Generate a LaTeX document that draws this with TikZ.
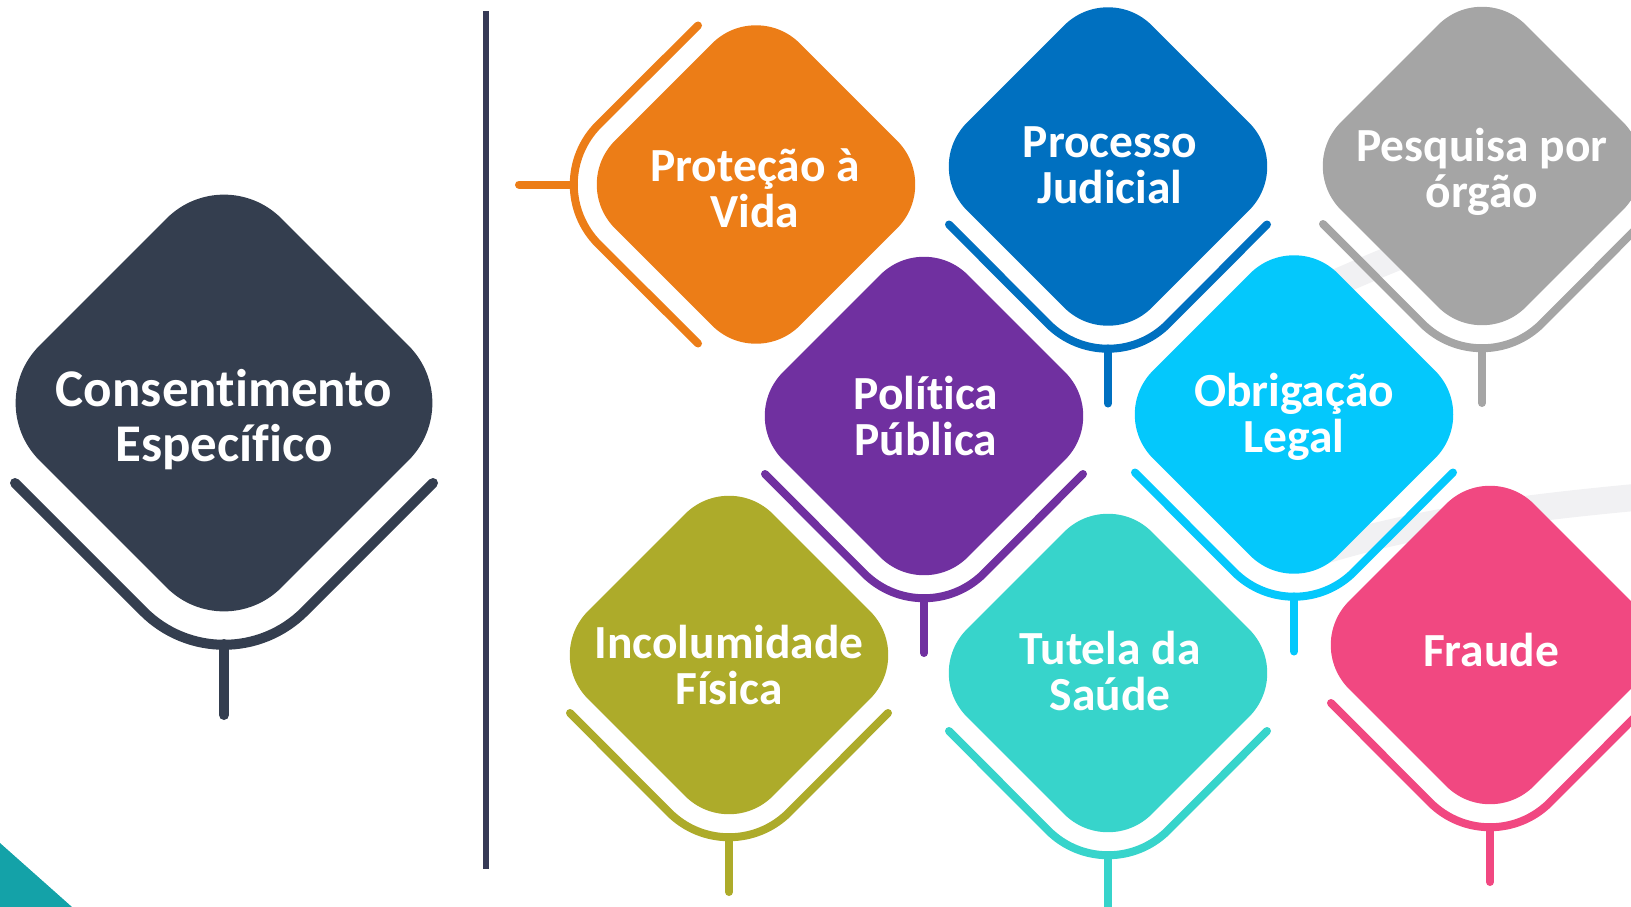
\documentclass[tikz,border=0pt]{standalone}
\usepackage{fontspec}
\setmainfont{Carlito}[Ligatures=NoCommon]
\usetikzlibrary{shapes.geometric}

\definecolor{slate}{HTML}{343E4F}
\definecolor{navy}{HTML}{363A56}
\definecolor{ochre}{HTML}{EC7D17}
\definecolor{royal}{HTML}{0070C0}
\definecolor{ash}{HTML}{A5A5A5}
\definecolor{plum}{HTML}{7030A0}
\definecolor{sky}{HTML}{04C8FC}
\definecolor{moss}{HTML}{ADAB2A}
\definecolor{aqua}{HTML}{37D4CB}
\definecolor{rose}{HTML}{F14881}
\definecolor{lagoon}{HTML}{14A2A8}
\definecolor{halo}{HTML}{F1F1F3}

\tikzset{
	gem/.style={diamond, aspect=1, inner sep=0pt, minimum size=370pt, rounded corners=62pt},
	biggem/.style={gem, minimum size=484pt, rounded corners=81pt},
	gemtext/.style={text=white, align=center, inner sep=0pt,
		font=\fontsize{47.5}{46.5}\selectfont\bfseries,
		execute at begin node=\rule{0pt}{0.8em},
		execute at end node=\rule[-0.25em]{0pt}{0.25em}},
	bigtext/.style={gemtext, font=\fontsize{53}{55}\selectfont\bfseries},
	brk/.style={line width=8pt, line cap=round, rounded corners=85pt},
	bigbrk/.style={brk, line width=10pt, rounded corners=114pt}
}

\begin{document}
\begin{tikzpicture}[x=1pt, y=-1pt]
			% Fix the size of the picture:
			\useasboundingbox (0,0) rectangle (1631,907);
			\clip (0,0) rectangle (1631,907);
			% Draw the faint rings in the background:
			\draw[halo, line width=27pt] (1230,330) .. controls (1300,300) and (1380,260) .. (1470,230);
			\draw[halo, line width=27pt] (1300,558) .. controls (1400,525) and (1500,510) .. (1640,497);
			% Draw the corner triangle:
			\fill[lagoon] (0,843) -- (72,907) -- (0,907) -- cycle;
			% Draw the divider:
			\coordinate (L0) at (486,11);
			\coordinate (L1) at (486,869);
			\draw[navy, line width=6pt] (L0) -- (L1);
			% Specify the positions of the diamonds:
			\coordinate (C0) at (224,403);
			\coordinate (C1) at (756,184.5);
			\coordinate (C2) at (1108,166.5);
			\coordinate (C3) at (1482,166);
			\coordinate (C4) at (924,416);
			\coordinate (C5) at (1294,414.5);
			\coordinate (C6) at (729,655);
			\coordinate (C7) at (1108,673);
			\coordinate (C8) at (1490,645);
			% Draw the diamonds:
			\node[biggem, fill=slate] (D0) at (C0) {};
			\node[gem, fill=ochre] (D1) at (C1) {};
			\node[gem, fill=royal] (D2) at (C2) {};
			\node[gem, fill=ash] (D3) at (C3) {};
			\node[gem, fill=plum] (D4) at (C4) {};
			\node[gem, fill=sky] (D5) at (C5) {};
			\node[gem, fill=moss] (D6) at (C6) {};
			\node[gem, fill=aqua] (D7) at (C7) {};
			\node[gem, fill=rose] (D8) at (C8) {};
			% Draw the brackets round the diamonds:
			\draw[bigbrk, slate, shift={(C0)}] (-209,80) -- (0,289) -- (209,80);
			\draw[bigbrk, slate, shift={(C0)}] (0,241) -- (0,312);
			\draw[brk, ochre, shift={(C1)}] (-58,-159) -- (-217.5,0) -- (-58,159);
			\draw[brk, ochre, shift={(C1)}] (-182,0) -- (-237,0);
			\draw[brk, royal, shift={(C2)}] (-159,58) -- (0,217.5) -- (159,58);
			\draw[brk, royal, shift={(C2)}] (0,182) -- (0,237);
			\draw[brk, ash, shift={(C3)}] (-159,58) -- (0,217.5) -- (159,58);
			\draw[brk, ash, shift={(C3)}] (0,182) -- (0,237);
			\draw[brk, plum, shift={(C4)}] (-159,58) -- (0,217.5) -- (159,58);
			\draw[brk, plum, shift={(C4)}] (0,182) -- (0,237);
			\draw[brk, sky, shift={(C5)}] (-159,58) -- (0,217.5) -- (159,58);
			\draw[brk, sky, shift={(C5)}] (0,182) -- (0,237);
			\draw[brk, moss, shift={(C6)}] (-159,58) -- (0,217.5) -- (159,58);
			\draw[brk, moss, shift={(C6)}] (0,182) -- (0,237);
			\draw[brk, aqua, shift={(C7)}] (-159,58) -- (0,217.5) -- (159,58);
			\draw[brk, aqua, shift={(C7)}] (0,182) -- (0,237);
			\draw[brk, rose, shift={(C8)}] (-159,58) -- (0,217.5) -- (159,58);
			\draw[brk, rose, shift={(C8)}] (0,182) -- (0,237);
			% Specify the texts:
			\node[bigtext] (T0) at (224,422.5) {Consentimento\\Específico};
			\node[gemtext] (T1) at (755,194) {Proteção à\\Vida};
			\node[gemtext] (T2) at (1110,171) {Processo\\Judicial};
			\node[gemtext] (T3) at (1482,174) {Pesquisa por\\órgão};
			\node[gemtext] (T4) at (926,422) {Política\\Pública};
			\node[gemtext] (T5) at (1294,419) {Obrigação\\Legal};
			\node[gemtext] (T6) at (729,671) {Incolumidade\\Física};
			\node[gemtext] (T7) at (1110,677) {Tutela da\\Saúde};
			\node[gemtext] (T8) at (1491,653) {Fraude};
		\end{tikzpicture}
\end{document}
